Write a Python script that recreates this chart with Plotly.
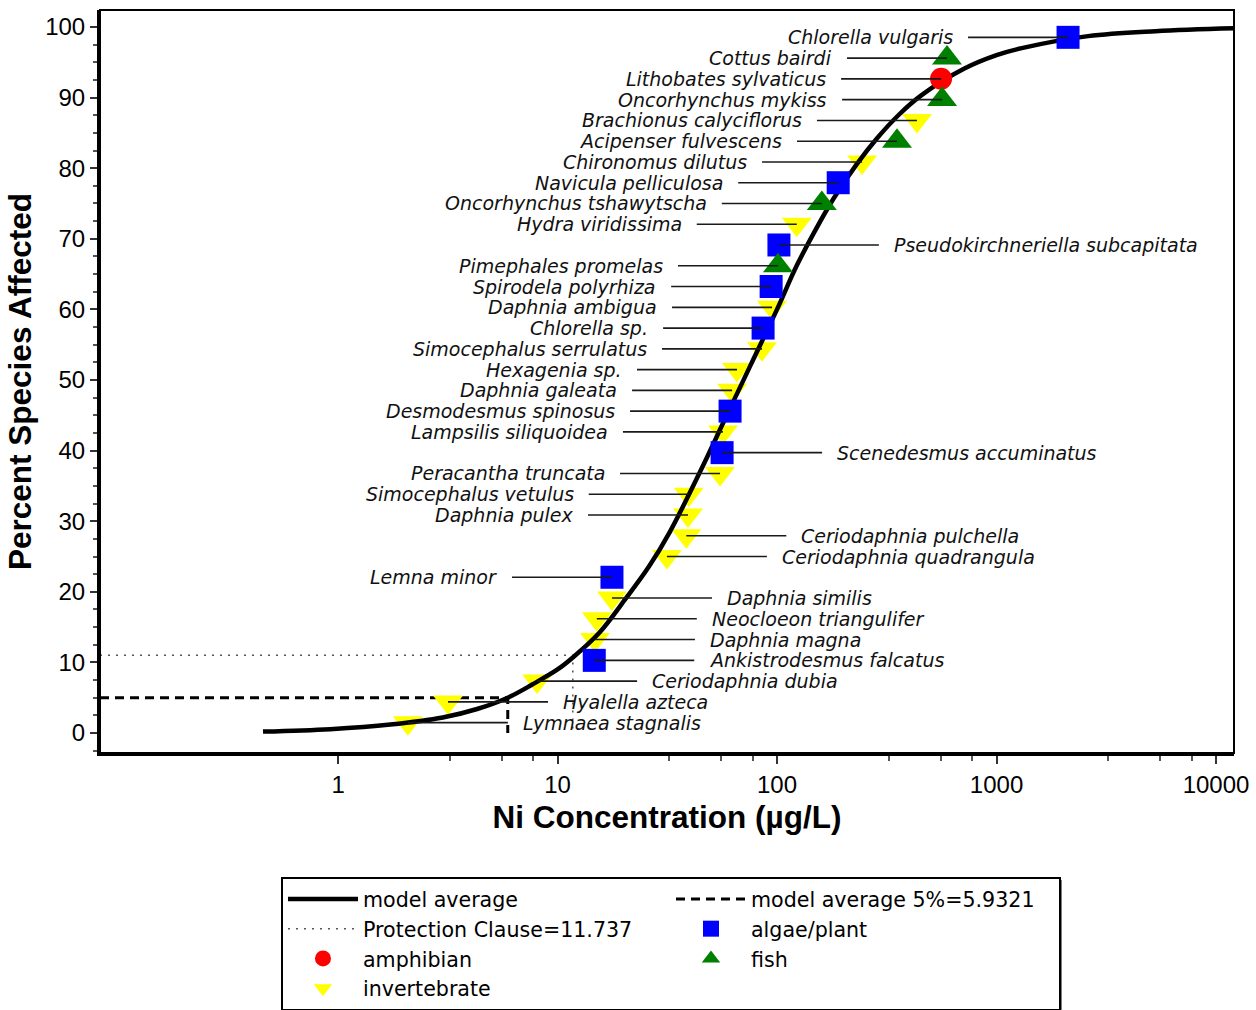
import math
import plotly.graph_objects as go

# ---------------- data ----------------
species = [
    "Lymnaea stagnalis", "Hyalella azteca", "Ceriodaphnia dubia", "Ankistrodesmus falcatus",
    "Daphnia magna", "Neocloeon triangulifer", "Daphnia similis", "Lemna minor",
    "Ceriodaphnia quadrangula", "Ceriodaphnia pulchella", "Daphnia pulex", "Simocephalus vetulus",
    "Peracantha truncata", "Scenedesmus accuminatus", "Lampsilis siliquoidea", "Desmodesmus spinosus",
    "Daphnia galeata", "Hexagenia sp.", "Simocephalus serrulatus", "Chlorella sp.",
    "Daphnia ambigua", "Spirodela polyrhiza", "Pimephales promelas", "Pseudokirchneriella subcapitata",
    "Hydra viridissima", "Oncorhynchus tshawytscha", "Navicula pelliculosa", "Chironomus dilutus",
    "Acipenser fulvescens", "Brachionus calyciflorus", "Oncorhynchus mykiss", "Lithobates sylvaticus",
    "Cottus bairdi", "Chlorella vulgaris",
]
conc = [
    2.08, 3.17, 8.07, 14.7,
    14.8, 15.1, 17.7, 17.7,
    31.5, 38.6, 39.3, 39.6,
    55.0, 56.2, 56.7, 61.1,
    62.4, 65.7, 85.4, 86.4,
    94.9, 94.0, 101, 102,
    123, 160, 190, 244,
    352, 434, 565, 559,
    595, 2118,
]
pct = [
    1.47, 4.41, 7.35, 10.29, 13.24, 16.18, 19.12, 22.06, 25.0, 27.94,
    30.88, 33.82, 36.76, 39.71, 42.65, 45.59, 48.53, 51.47, 54.41, 57.35,
    60.29, 63.24, 66.18, 69.12, 72.06, 75.0, 77.94, 80.88, 83.82, 86.76,
    89.71, 92.65, 95.59, 98.53,
]
group = [
    "invertebrate", "invertebrate", "invertebrate", "algae/plant",
    "invertebrate", "invertebrate", "invertebrate", "algae/plant",
    "invertebrate", "invertebrate", "invertebrate", "invertebrate",
    "invertebrate", "algae/plant", "invertebrate", "algae/plant",
    "invertebrate", "invertebrate", "invertebrate", "algae/plant",
    "invertebrate", "algae/plant", "fish", "algae/plant",
    "invertebrate", "fish", "algae/plant", "invertebrate",
    "fish", "invertebrate", "fish", "amphibian",
    "fish", "algae/plant",
]
label_side = [
    "R", "R", "R", "R", "R", "R", "R", "L", "R", "R",
    "L", "L", "L", "R", "L", "L", "L", "L", "L", "L",
    "L", "L", "L", "R", "L", "L", "L", "L", "L", "L",
    "L", "L", "L", "L",
]

# model average curve
curve_x = [0.455, 0.92, 1.73, 3.0, 4.3, 5.93, 7.7, 10.0, 11.74, 15.5, 20.4, 26.0, 32.5,
           44.6, 58.0, 75.5, 100, 123, 150, 181, 230, 285, 360, 454, 714, 1000, 1303,
           2613, 5300, 12080]
curve_y = [0.2, 0.55, 1.2, 2.2, 3.4, 5.0, 6.9, 9.0, 10.7, 14.2, 19.0, 23.5, 28.5,
           37.0, 44.5, 52.0, 60.0, 66.2, 71.3, 75.7, 80.5, 84.2, 87.6, 90.3, 94.1, 96.0, 97.0,
           98.7, 99.4, 99.8]

HC5 = 5.9321
HC5_PCT = 5.0
PC = 11.737
PC_PCT = 11.0

x_tick_vals = [1, 10, 100, 1000, 10000]
x_tick_text = ["1", "10", "100", "1000", "10000"]
y_tick_vals = [0, 10, 20, 30, 40, 50, 60, 70, 80, 90, 100]

# ---------------- layout constants ----------------
X_RANGE = [-1.0846, 4.082]
Y_RANGE = [-2.83, 102.4]
X_MIN = 10 ** X_RANGE[0]
LEAD = 0.4556      # leader line length in decades (~100 px)
GAP = 0.515        # label offset in decades
minor_x = []
for d in range(0, 4):
    for f in (0.51, 0.745, 0.89):
        minor_x.append(10 ** (d + f))

styles = {
    "algae/plant": dict(symbol="square", color="#0000FF", size=23, rank=4),
    "amphibian": dict(symbol="circle", color="#FF0000", size=22, rank=5),
    "fish": dict(symbol="triangle-up", color="#008000", size=26, rank=6),
    "invertebrate": dict(symbol="triangle-down", color="#FFFF00", size=26, rank=7),
}

fig = go.Figure()

# HC5 dashed
fig.add_trace(go.Scatter(
    x=[X_MIN, HC5, HC5], y=[HC5_PCT, HC5_PCT, 0],
    mode="lines", line=dict(color="black", width=3, dash="9px,6px"),
    name="model average 5%=5.9321", legendrank=2, hoverinfo="skip"))
# Protection clause dotted
fig.add_trace(go.Scatter(
    x=[X_MIN, PC, PC], y=[PC_PCT, PC_PCT, 0],
    mode="lines", line=dict(color="#555555", width=1.5, dash="2px,6px"),
    name="Protection Clause=11.737", legendrank=3, hoverinfo="skip"))


def add_group(g):
    st = styles[g]
    xs = [c for c, gg in zip(conc, group) if gg == g]
    ys = [p for p, gg in zip(pct, group) if gg == g]
    names = [s for s, gg in zip(species, group) if gg == g]
    fig.add_trace(go.Scatter(
        x=xs, y=ys, mode="markers", name=g, text=names,
        marker=dict(symbol=st["symbol"], color=st["color"], size=st["size"], line=dict(width=0)),
        legendrank=st["rank"]))


add_group("invertebrate")

# model average curve
fig.add_trace(go.Scatter(
    x=curve_x, y=curve_y, mode="lines", line=dict(color="black", width=4.5, shape="spline"),
    name="model average", legendrank=1, hoverinfo="skip"))

add_group("algae/plant")
add_group("amphibian")
add_group("fish")

# leader lines
lx, ly = [], []
for c, p, s in zip(conc, pct, label_side):
    sign = 1 if s == "R" else -1
    lx += [c, c * 10 ** (sign * LEAD), None]
    ly += [p, p, None]
fig.add_trace(go.Scatter(x=lx, y=ly, mode="lines", line=dict(color="#1a1a1a", width=1.6),
                         showlegend=False, hoverinfo="skip"))

annotations = []
for name, c, p, s in zip(species, conc, pct, label_side):
    sign = 1 if s == "R" else -1
    annotations.append(dict(
        x=math.log10(c) + sign * GAP, y=p, xref="x", yref="y",
        text=name, showarrow=False,
        xanchor="left" if s == "R" else "right", yanchor="middle",
        font=dict(family="DejaVu Sans", size=19, color="#111111", style="italic")))

fig.update_layout(
    width=1256, height=1010,
    margin=dict(l=100, r=22, t=10, b=257, autoexpand=False),
    paper_bgcolor="white", plot_bgcolor="white",
    font=dict(family="Liberation Sans, Arial", color="black"),
    annotations=annotations,
    showlegend=True,
    legend=dict(
        orientation="h", x=0.1596, xanchor="left", y=-0.1669, yanchor="top",
        entrywidth=303, entrywidthmode="pixels", itemwidth=70,
        font=dict(size=20.6, family="DejaVu Sans"),
        bordercolor="black", borderwidth=2, bgcolor="white", traceorder="normal"),
    shapes=[
        dict(type="rect", xref="paper", yref="paper", x0=0, x1=1, y0=0, y1=1,
             line=dict(color="black", width=2), layer="above"),
        # legend drop shadow
        dict(type="rect", xref="paper", yref="paper", x0=0.1623, x1=0.8483, y0=-0.3472, y1=-0.1709,
             fillcolor="#7a7a7a", line=dict(width=0), layer="below"),
    ],
)

fig.update_xaxes(
    type="log", range=X_RANGE, tickvals=x_tick_vals, ticktext=x_tick_text,
    ticks="outside", ticklen=8, tickwidth=1.5, tickcolor="#333",
    showline=True, linewidth=3, linecolor="black", showgrid=False, zeroline=False,
    minor=dict(tickvals=minor_x, ticks="outside", ticklen=5, tickwidth=1.5, tickcolor="#555", showgrid=False),
    tickfont=dict(size=24),
    title=dict(text="<b>Ni Concentration (µg/L)</b>", font=dict(size=31.5), standoff=10),
)
fig.update_yaxes(
    range=Y_RANGE, tickvals=y_tick_vals,
    ticks="outside", ticklen=7, tickwidth=1.5, tickcolor="#333",
    showline=True, linewidth=3, linecolor="black", showgrid=False, zeroline=False,
    minor=dict(dtick=2.5, ticks="outside", ticklen=4, tickwidth=1.5, tickcolor="#555", showgrid=False),
    tickfont=dict(size=24),
    title=dict(text="<b>Percent Species Affected</b>", font=dict(size=31.5), standoff=5),
)

fig.write_html("out.html")
